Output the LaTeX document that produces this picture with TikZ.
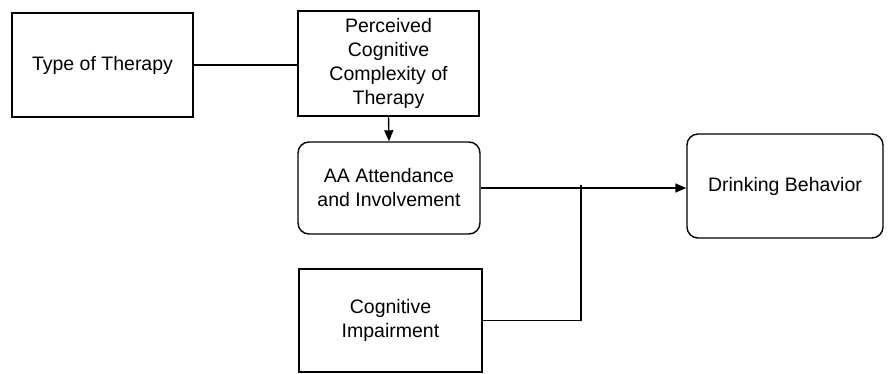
\documentclass[tikz,border=0pt]{standalone}
\usepackage{fontspec}
\setmainfont{Liberation Sans}
\usetikzlibrary{arrows.meta}

\tikzset{
  box/.style={draw=black, line width=1.4pt, fill=white, align=center,
    inner sep=0pt, font=\fontsize{19.5}{24}\selectfont},
  roundbox/.style={box, rounded corners=11pt},
  link/.style={draw=black, line width=1.4pt},
  tip/.style={link, -{Triangle[length=11pt,width=9pt]}}
}

\begin{document}
\begin{tikzpicture}[x=1pt, y=-1pt]
  \useasboundingbox (0,0) rectangle (888,373);

  % model boxes
  \node[box, minimum width=181pt, minimum height=104pt] (therapy) at (102.5,65) {Type of Therapy};
  \node[box, minimum width=181pt, minimum height=105pt] (perceived) at (388.5,63.5)
    {Perceived\\Cognitive\\Complexity of\\Therapy};
  \node[roundbox, minimum width=182pt, minimum height=92pt] (aa) at (389,188)
    {AA Attendance\\and Involvement};
  \node[roundbox, minimum width=196pt, minimum height=104pt] (drink) at (785,186)
    {Drinking Behavior};
  \node[box, minimum width=183pt, minimum height=103pt] (cog) at (390.5,320.5)
    {Cognitive\\Impairment};

  % junction where the impairment path meets the main path
  \coordinate (join) at (581,188);

  % connectors
  \draw[link] (therapy.east) -- (therapy.east -| perceived.west);
  \draw[tip] (perceived.south) -- (aa.north);
  \draw[tip] (aa.east) -- (aa.east -| drink.west);
  \draw[link] (cog.east) -| ([yshift=3pt]join);
\end{tikzpicture}
\end{document}
